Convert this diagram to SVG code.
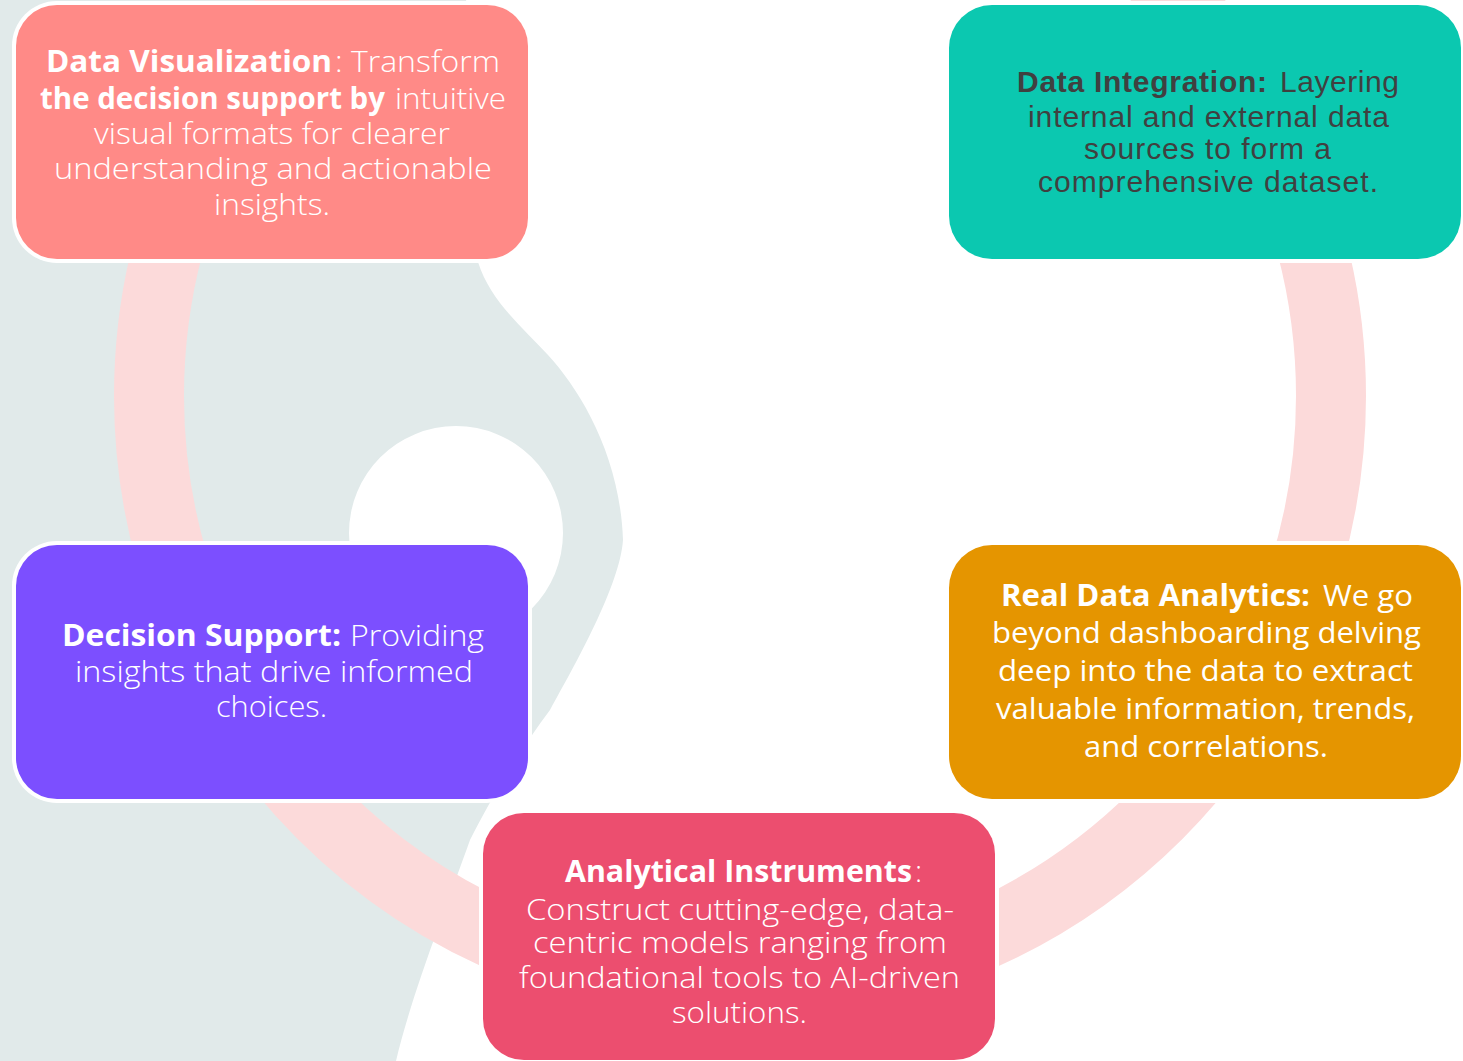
<svg xmlns="http://www.w3.org/2000/svg" width="1463" height="1061" viewBox="0 0 1463 1061">
<style>
.halo { fill: #ffffff; }
.t { font-family: "Open Sans", "Liberation Sans", sans-serif; font-size: 30px; fill: #ffffff; }
.b { font-weight: 700; }
.l { font-weight: 300; }
.r { font-weight: 400; }
.di { font-family: "Liberation Sans", Arial, sans-serif; font-size: 30px; fill: #404040; }
</style>
<rect width="1463" height="1061" fill="#ffffff"/>
<g id="background">
  <path fill="#E1EAEA" fill-rule="evenodd" d="M-10,-10 L466,-10 C468,150 470,230 478,262 C490,300 520,325 548,355 C580,390 620,455 623,540 C620,585 575,665 550,710 C520,750 490,800 470,840 C445,910 410,1000 396,1061 L-10,1061 Z M349,533 a107,107 0 1,0 214,0 a107,107 0 1,0 -214,0 Z"/>
  <circle cx="740" cy="396" r="591" fill="none" stroke="#FCDADA" stroke-width="70"/>
</g>
<g id="connectors"></g>
<g id="node-data-visualization">
  <rect class="halo" x="12" y="1" width="520" height="262" rx="45"/>
  <rect x="16" y="5" width="512" height="254" rx="41" fill="#FF8A87"/>
  <text class="t b" x="46" y="72" textLength="286" lengthAdjust="spacingAndGlyphs">Data Visualization</text>
  <text class="t l" x="335" y="72" textLength="165" lengthAdjust="spacingAndGlyphs">: Transform</text>
  <text class="t b" x="40" y="109" textLength="345" lengthAdjust="spacingAndGlyphs">the decision support by</text>
  <text class="t l" x="395" y="109" textLength="111" lengthAdjust="spacingAndGlyphs">intuitive</text>
  <text class="t l" x="94" y="144" textLength="356" lengthAdjust="spacingAndGlyphs">visual formats for clearer</text>
  <text class="t l" x="54" y="179" textLength="438" lengthAdjust="spacingAndGlyphs">understanding and actionable</text>
  <text class="t l" x="214" y="215" textLength="116" lengthAdjust="spacingAndGlyphs">insights.</text>
</g>
<g id="node-data-integration">
  <rect class="halo" x="945" y="1" width="520" height="262" rx="45"/>
  <rect x="949" y="5" width="512" height="254" rx="43" fill="#0BC8B0"/>
  <text class="di" x="1017" y="92" font-weight="700" textLength="250" lengthAdjust="spacing">Data Integration:</text>
  <text class="di" x="1280" y="92" textLength="119" lengthAdjust="spacing">Layering</text>
  <text class="di" x="1028" y="127" textLength="361" lengthAdjust="spacing">internal and external data</text>
  <text class="di" x="1084" y="159" textLength="247" lengthAdjust="spacing">sources to form a</text>
  <text class="di" x="1038" y="192" textLength="340" lengthAdjust="spacing">comprehensive dataset.</text>
</g>
<g id="node-decision-support">
  <rect class="halo" x="12" y="541" width="520" height="262" rx="45"/>
  <rect x="16" y="545" width="512" height="254" rx="41" fill="#7C4FFF"/>
  <text class="t b" x="62" y="646" textLength="279" lengthAdjust="spacingAndGlyphs">Decision Support:</text>
  <text class="t l" x="350" y="646" textLength="134" lengthAdjust="spacingAndGlyphs">Providing</text>
  <text class="t l" x="75" y="682" textLength="398" lengthAdjust="spacingAndGlyphs">insights that drive informed</text>
  <text class="t l" x="216" y="717" textLength="111" lengthAdjust="spacingAndGlyphs">choices.</text>
</g>
<g id="node-real-data-analytics">
  <rect class="halo" x="945" y="541" width="520" height="262" rx="45"/>
  <rect x="949" y="545" width="512" height="254" rx="43" fill="#E59500"/>
  <text class="t b" x="1001" y="606" textLength="309" lengthAdjust="spacingAndGlyphs">Real Data Analytics:</text>
  <text class="t r" x="1323" y="606" textLength="90" lengthAdjust="spacingAndGlyphs">We go</text>
  <text class="t r" x="992" y="643" textLength="429" lengthAdjust="spacingAndGlyphs">beyond dashboarding delving</text>
  <text class="t r" x="998" y="681" textLength="415" lengthAdjust="spacingAndGlyphs">deep into the data to extract</text>
  <text class="t r" x="996" y="719" textLength="419" lengthAdjust="spacingAndGlyphs">valuable information, trends,</text>
  <text class="t r" x="1084" y="757" textLength="244" lengthAdjust="spacingAndGlyphs">and correlations.</text>
</g>
<g id="node-analytical-instruments">
  <rect class="halo" x="479" y="809" width="520" height="255" rx="45"/>
  <rect x="483" y="813" width="512" height="247" rx="41" fill="#EC4E6F"/>
  <text class="t b" x="565" y="882" textLength="347" lengthAdjust="spacingAndGlyphs">Analytical Instruments</text>
  <text class="t l" x="915" y="882">:</text>
  <text class="t l" x="526" y="920" textLength="428" lengthAdjust="spacingAndGlyphs">Construct cutting-edge, data-</text>
  <text class="t l" x="533" y="953" textLength="414" lengthAdjust="spacingAndGlyphs">centric models ranging from</text>
  <text class="t l" x="519" y="988" textLength="441" lengthAdjust="spacingAndGlyphs">foundational tools to AI-driven</text>
  <text class="t l" x="672" y="1023" textLength="135" lengthAdjust="spacingAndGlyphs">solutions.</text>
</g>
</svg>
